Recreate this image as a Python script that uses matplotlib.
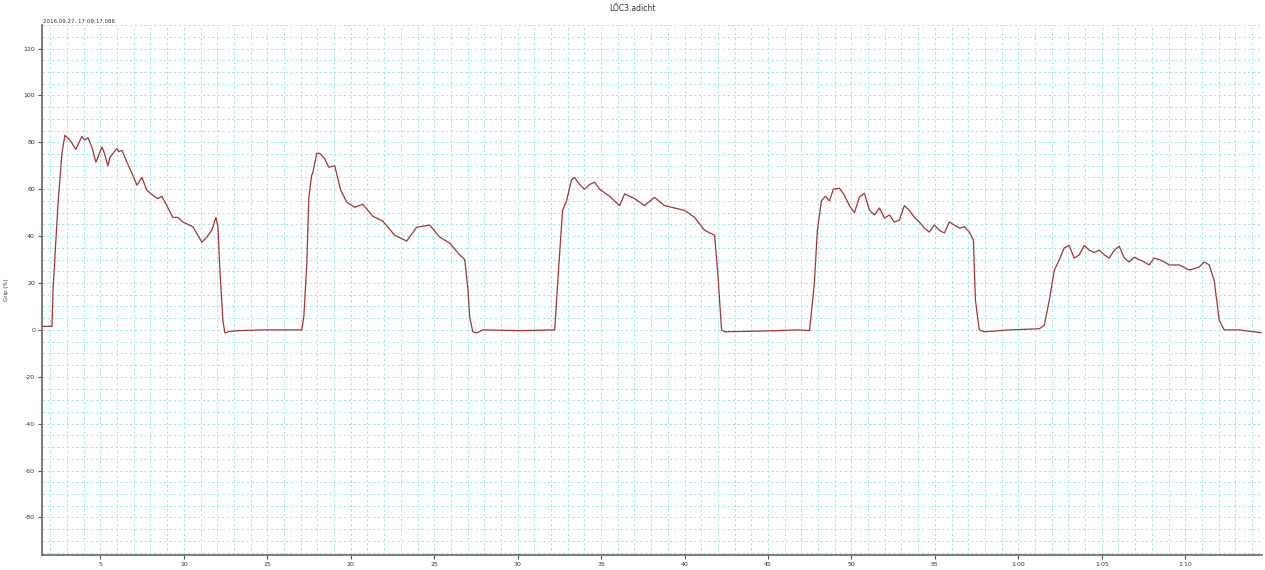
import numpy as np
import matplotlib.pyplot as plt
from matplotlib.ticker import MultipleLocator, FuncFormatter

plt.rcParams['axes.unicode_minus'] = False

# time in minutes, grip in %
t = [1.50, 2.10, 2.16, 2.46, 2.69, 2.87, 3.17, 3.53, 3.89, 4.07, 4.25, 4.49, 4.73, 5.09, 5.21,
     5.45, 5.57, 5.99, 6.11, 6.29, 6.59, 6.89, 7.19, 7.49, 7.78, 8.14, 8.44, 8.68, 8.98, 9.34,
     9.64, 9.94, 10.54, 11.08, 11.38, 11.68, 11.92, 12.04, 12.16, 12.34, 12.46, 12.75, 13.35,
     14.73, 17.07,
     17.19, 17.37, 17.49, 17.66, 17.72, 17.96, 18.14, 18.44, 18.68, 19.04, 19.40, 19.76, 20.24,
     20.72, 21.32, 21.92, 22.63, 23.35, 23.95, 24.73, 25.33, 25.93, 26.53, 26.83, 27.01, 27.13,
     27.31, 27.54, 27.90, 30.12, 32.22,
     32.40, 32.69, 32.93, 33.23, 33.41, 33.71, 34.01, 34.31, 34.61, 34.91, 35.51, 36.11, 36.41,
     37.01, 37.60, 38.20, 38.80, 39.40, 40.00, 40.60, 41.20, 41.80, 41.98, 42.22, 42.40, 44.49,
     46.89, 47.49,
     47.78, 47.96, 48.20, 48.44, 48.68, 48.92, 49.28, 49.58, 49.88, 50.18, 50.48, 50.78, 51.08,
     51.38, 51.68, 51.98, 52.28, 52.57, 52.87, 53.17, 53.47, 53.77, 54.07, 54.37, 54.67, 54.97,
     55.27, 55.57, 55.87, 56.17, 56.47, 56.77, 57.07, 57.31, 57.43, 57.66, 57.96, 59.46, 61.26,
     61.56, 61.86, 62.16, 62.46, 62.75, 63.05, 63.35, 63.65, 63.95, 64.25, 64.55, 64.85, 65.15,
     65.45, 65.75, 66.05, 66.35, 66.65, 66.95, 67.25, 67.54, 67.84, 68.14, 68.44, 68.74, 69.04,
     69.64, 70.24, 70.84, 71.14, 71.44, 71.74, 72.04, 72.34, 73.23, 74.55]
grip = [1.5, 1.5, 17, 54, 75, 83, 81, 77, 82.5, 81, 82, 78, 71.5, 78, 76,
        70, 73.6, 77.4, 76, 76.6, 71.5, 66.8, 61.7, 65, 59.6, 57.4, 56, 57, 53, 48,
        48, 46, 44, 37.4, 39.6, 42.6, 48, 44, 25.5, 4, -1.3, -0.6, -0.3,
        0, 0,
        5.7, 28.5, 56.6, 66, 66.8, 75.3, 75.3, 73, 69.4, 70, 59.6, 54.5, 52.3,
        53.6, 48.5, 46.4, 40.4, 37.9, 43.8, 44.7, 39.6, 37, 32, 30, 18.3, 5.5,
        -0.8, -1.3, 0, -0.3, 0,
        20, 51, 55, 64, 65, 62, 60, 62, 63, 60, 57, 53, 58,
        56, 53, 56.5, 53, 52, 51, 48, 42.5, 40.4, 25.5, 0, -0.8, -0.5,
        0, -0.3,
        20, 42.5, 55, 57, 55, 60, 60.4, 57.4, 53, 50, 56.6, 58.3, 51,
        49, 52, 47.7, 49, 46, 46.8, 53, 51, 48, 46, 43.4, 41.7, 44.7,
        42.5, 41.3, 46, 44.7, 43.4, 44, 41.7, 38.3, 12.8, 0, -0.8, 0, 0.5,
        2, 12.8, 25.5, 30, 35, 36, 30.6, 32, 36, 34, 33, 34, 32,
        30.6, 34, 35.7, 30.6, 29, 31, 30, 29, 27.7, 30.6, 30, 29, 27.7,
        27.7, 25.5, 26.8, 29, 27.7, 21, 4, 0, 0, -1.2]


def fmt_min(v, pos):
    v = int(round(v))
    if v >= 60:
        return '%d:%02d' % (v // 60, v % 60)
    return str(v)


fig = plt.figure(figsize=(12.65, 5.7), dpi=100)
ax = fig.add_axes([0.0332, 0.0263, 0.9644, 0.9297])
ax.plot(t, grip, color='#a83232', lw=0.9)

ax.set_xlim(1.5, 74.6)
ax.set_ylim(-96, 130)
ax.xaxis.set_major_locator(MultipleLocator(5))
ax.xaxis.set_minor_locator(MultipleLocator(1))
ax.yaxis.set_major_locator(MultipleLocator(20))
ax.yaxis.set_minor_locator(MultipleLocator(5))
ax.xaxis.set_major_formatter(FuncFormatter(fmt_min))
ax.grid(which='both', color='#9de9e9', ls=(0, (2.5, 2.5)), lw=0.7)
ax.set_axisbelow(True)
ax.tick_params(which='major', labelsize=4.5, length=3, width=0.8, colors='#555555',
               labelcolor='#333333', pad=2)
ax.tick_params(which='minor', length=0)
for s in ['top', 'right']:
    ax.spines[s].set_visible(False)
for s in ['left', 'bottom']:
    ax.spines[s].set_color('#666666')
    ax.spines[s].set_linewidth(1.2)

ax.set_ylabel('Grip (%)', fontsize=4, color='#333333', labelpad=10)
fig.text(0.5, 0.985, 'LÖC3.adicht', ha='center', va='center', fontsize=5.5, color='#333333')
fig.text(0.034, 0.962, '2016.09.27. 17:09:17.086', ha='left', va='center', fontsize=4,
         color='#333333')

plt.savefig('out.png', dpi=100)
